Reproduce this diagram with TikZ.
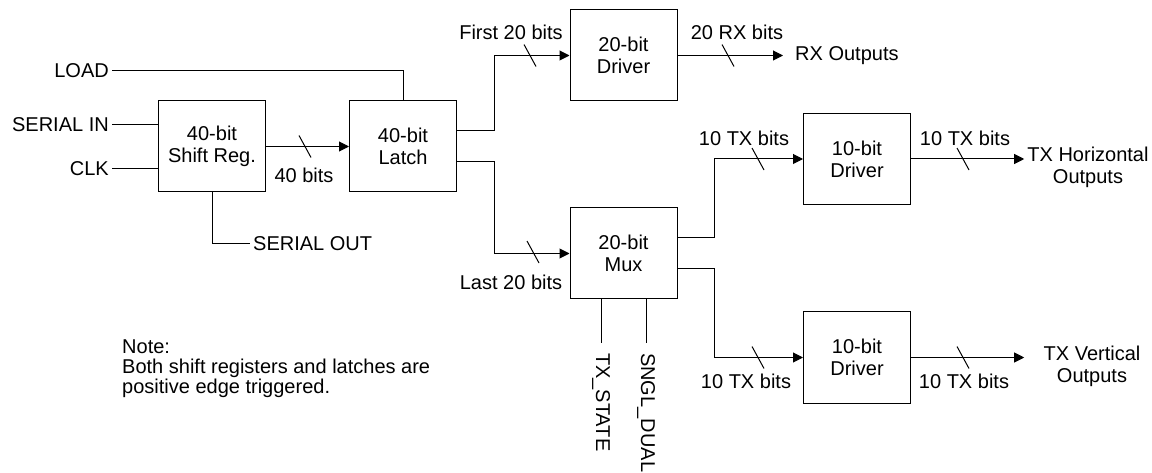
\documentclass[tikz,border=0pt]{standalone}
\usepackage{fontspec}
\setmainfont{Liberation Sans}
\usepackage{tikz}
\usetikzlibrary{positioning,arrows.meta,calc}
\tikzset{
  >={Triangle[length=10pt,width=10pt]},
  wire/.style={draw=black, line width=1pt},
  l/.style={->, wire},
  block/.style={wire, minimum width=107pt, minimum height=91pt, inner sep=0pt, align=center},
  sig/.style={inner sep=3pt},
  bustick/.pic={\draw[wire] (-6,-11) -- (6,11);},
}
\begin{document}
\begin{tikzpicture}[x=1pt, y=-1pt, font=\fontsize{20}{22}\selectfont, node distance=83pt]
  \useasboundingbox (0,0) rectangle (1152,473);
  % blocks
  \node[block] (sr) at (212,146.5) {40-bit\\Shift Reg.};
  \node[block, right=of sr] (latch) {40-bit\\Latch};
  \node[block] (drx) at (623.5,55.5) {20-bit\\Driver};
  \node[block, below=106pt of drx] (mux) {20-bit\\Mux};
  \node[block] (dh) at (857,159) {10-bit\\Driver};
  \node[block] (dv) at (857,357.5) {10-bit\\Driver};
  % inputs and outputs
  \node[sig, anchor=east] (load) at (112,71) {LOAD};
  \node[sig, anchor=east] (sin) at (112,124.5) {SERIAL IN};
  \node[sig, anchor=east] (clk) at (112,168.5) {CLK};
  \node[sig, anchor=west] (sout) at (250,244) {SERIAL OUT};
  \node[sig, anchor=west, inner xsep=12pt] (rxo) at (783,55.5) {RX Outputs};
  \node[sig, anchor=north, align=center] (tho) at (1088,144) {TX Horizontal\\Outputs};
  \node[sig, anchor=north, align=center] (tvo) at (1092,343) {TX Vertical\\Outputs};
  \node[sig, rotate=-90, anchor=west, inner xsep=10pt] (txs) at (601,343) {TX\_STATE};
  \node[sig, rotate=-90, anchor=west, inner xsep=10pt] (sd) at (646,343) {SNGL\_DUAL};
  % bus labels
  \node (b40) at (304,175) {40 bits};
  \node (bf) at (511,32) {First 20 bits};
  \node (brx) at (737,32) {20 RX bits};
  \node (bl) at (511,282) {Last 20 bits};
  \node (bh1) at (744,138) {10 TX bits};
  \node (bh2) at (965,138) {10 TX bits};
  \node (bv1) at (746,381) {10 TX bits};
  \node (bv2) at (964,381) {10 TX bits};
  \node[sig, anchor=north west, align=left, font=\fontsize{20}{20}\selectfont] (note) at (119,337)
    {Note:\\Both shift registers and latches are\\positive edge triggered.};
  % wires
  \draw[wire] (load.east) -| (latch.north);
  \draw[wire] (sin.east) -- (sr.west |- sin.east);
  \draw[wire] (clk.east) -- (sr.west |- clk.east);
  \draw[wire] (sr.south) |- (sout.west);
  \draw[l] (sr) -- (latch);
  \draw[l] ([yshift=15.5pt]latch.east) -- ++(37,0) |- (drx.west);
  \draw[l] ([yshift=-15.5pt]latch.east) -- ++(37,0) |- (mux.west);
  \draw[l] (drx.east) -- (rxo.west);
  \draw[wire] (mux.south -| txs.west) -- (txs.west);
  \draw[wire] (mux.south -| sd.west) -- (sd.west);
  \draw[l] ([yshift=15.5pt]mux.east) -- ++(37,0) |- (dh.west);
  \draw[l] ([yshift=-15.5pt]mux.east) -- ++(37,0) |- (dv.west);
  \draw[l] (dh.east) -- (dh.east -| tho.west);
  \draw[l] (dv.east) -- (dv.east -| tho.west);
  % bus ticks
  \foreach \p in {(305,146.5),(530,55.5),(728,55.5),(533,252),(758,159),(963,159),(758,357.5),(963,357.5)}
    \pic at \p {bustick};
\end{tikzpicture}
\end{document}
